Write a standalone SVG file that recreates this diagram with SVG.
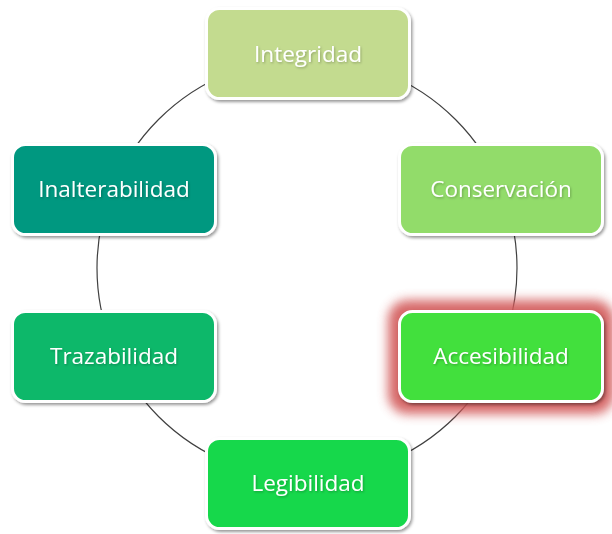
<svg xmlns="http://www.w3.org/2000/svg" width="612" height="534" viewBox="0 0 612 534">
  <defs>
    <filter id="shadow" x="-10%" y="-10%" width="125%" height="130%">
      <feDropShadow dx="1.5" dy="2" stdDeviation="1.6" flood-color="#000" flood-opacity="0.4"/>
    </filter>
    <filter id="txtshadow" x="-10%" y="-20%" width="120%" height="150%">
      <feDropShadow dx="1" dy="1.2" stdDeviation="0.8" flood-color="#000" flood-opacity="0.25"/>
    </filter>
    <filter id="glow" x="-20%" y="-30%" width="140%" height="160%">
      <feGaussianBlur stdDeviation="5.5"/>
    </filter>
  </defs>
  <style>
    .box { stroke: #ffffff; stroke-width: 3; filter: url(#shadow); }
    .lbl { font-family: "Open Sans", "Liberation Sans", sans-serif; font-size: 22.5px; fill: #ffffff; text-anchor: middle; filter: url(#txtshadow); }
    .conn { fill: none; stroke: #404040; stroke-width: 1.2; }
  </style>
  <rect width="612" height="534" fill="#ffffff"/>
  <g id="connectors">
    <circle class="conn" cx="307" cy="268" r="210"/>
  </g>
  <g id="node-integridad">
    <rect class="box" x="206.5" y="8.5" width="203" height="90" rx="13" fill="#C3DB8F"/>
    <text class="lbl" x="308" y="62">Integridad</text>
  </g>
  <g id="node-conservacion">
    <rect class="box" x="399.5" y="144.5" width="203" height="90" rx="13" fill="#92DC6A"/>
    <text class="lbl" x="501" y="197">Conservación</text>
  </g>
  <g id="node-accesibilidad">
    <rect x="388" y="300" width="226" height="114" rx="20" fill="#d25858" opacity="0.9" filter="url(#glow)"/>
    <rect class="box" x="399.5" y="311.5" width="203" height="90" rx="13" fill="#42E03E"/>
    <text class="lbl" x="501" y="364">Accesibilidad</text>
  </g>
  <g id="node-legibilidad">
    <rect class="box" x="206.5" y="438.5" width="203" height="90" rx="13" fill="#18D84C"/>
    <text class="lbl" x="308" y="491">Legibilidad</text>
  </g>
  <g id="node-trazabilidad">
    <rect class="box" x="12.5" y="311.5" width="203" height="90" rx="13" fill="#0BB86A"/>
    <text class="lbl" x="114" y="364">Trazabilidad</text>
  </g>
  <g id="node-inalterabilidad">
    <rect class="box" x="12.5" y="144.5" width="203" height="90" rx="13" fill="#009880"/>
    <text class="lbl" x="114" y="197">Inalterabilidad</text>
  </g>
</svg>
